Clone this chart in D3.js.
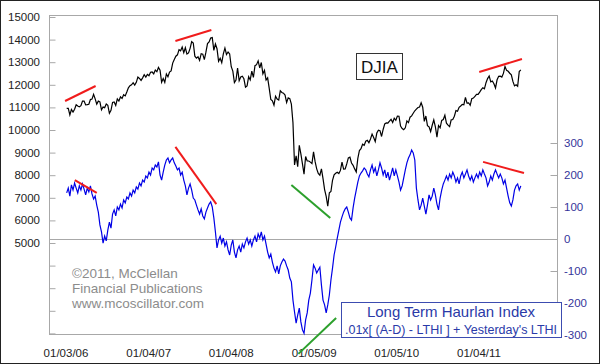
<!DOCTYPE html>
<html><head><meta charset="utf-8">
<script src="https://cdn.jsdelivr.net/npm/d3@7"></script>
<style>
html,body{margin:0;padding:0;background:#fff;}
svg{display:block;font-family:"Liberation Sans",Arial,sans-serif;}
</style></head>
<body><svg id="c" width="600" height="364"></svg>
<script>
// ---- data (weekly, Fridays, starting 2006-01-06) ----
const startDate = "2006-01-06";
const djia = [
10959,10960,10667,10907,10793,10920,11115,11061,11022,11076,11280,11280,11109,11120,11138,11347,11367,11577,11380,11144,11278,11247,10891,11015,10990,11150,11090,10739,10868,11219,11240,11088,11381,11284,11464,11392,11560,11508,11679,11867,11961,12002,12091,11986,12108,12343,12280,12194,12307,12445,12343,12463,
12398,12556,12566,12487,12653,12580,12768,12647,12114,12277,12110,12481,12354,12561,12612,12961,13121,13265,13327,13556,13507,13668,13424,13639,13361,13409,13612,13908,13851,13266,13182,13240,13079,13379,13358,13114,13443,13821,13896,14067,14093,13522,13807,13596,13043,13177,12981,13372,13625,13340,13451,13366,
12800,12606,12099,12207,12743,12183,12348,12381,12266,11894,11951,12361,12216,12609,12325,12849,12891,13058,12745,12986,12480,12638,12209,12307,11843,11347,11288,11100,11496,11370,11326,11734,11659,11628,11543,11220,11421,11388,11143,10325,8451,8852,8378,9325,8943,8497,8046,8829,8635,8629,8579,8515,
9034,8599,8281,8077,8001,8280,7850,7366,7063,6627,7224,7278,7776,8018,8083,8131,8076,8212,8575,8268,8277,8500,8764,8799,8539,8438,8280,8146,8743,9093,9171,9370,9321,9505,9544,9441,9605,9820,9665,9487,9865,9995,9972,9713,10023,10270,10318,10310,10389,10471,10329,10520,10428,
10618,10610,10172,10067,10012,10099,10402,10325,10567,10625,10742,10851,10927,10997,11019,11204,11009,10380,10620,10193,10137,9931,10211,10450,10143,9686,10198,10097,10425,10466,10653,10303,10214,10150,10448,10462,10607,10860,10829,11006,11063,11133,11118,11445,11193,11204,11092,11382,11411,11492,11574,11578,
11675,11787,11872,11824,12092,12273,12391,12130,12170,12044,11859,12221,12376,12380,12342,12506,12811,12638,12596,12512,12441,12151,11952,12004,11934,12583,12657
];
const lthi = [
144,159,134,169,153,175,159,144,166,153,172,156,138,159,147,166,141,125,134,106,84,44,22,-13,9,-6,28,53,34,78,91,72,100,91,109,97,122,113,131,125,144,134,153,144,163,156,175,166,184,178,197,191,
209,200,222,216,231,225,241,200,184,209,231,247,253,238,247,253,238,228,216,222,200,209,184,166,138,159,172,153,128,122,106,91,78,94,72,63,84,97,109,116,100,66,22,-28,-3,9,-13,3,-22,-9,-34,-50,
-19,-3,-41,-59,-34,-22,-41,-16,-28,-9,3,-16,-3,-22,-3,9,-9,16,3,22,-3,9,-16,-41,-59,-47,-72,-91,-103,-84,-109,-84,-72,-63,-69,-84,-97,-122,-134,-191,-228,-263,-238,-216,-259,-284,-295,-253,-231,-191,-169,-128,
-81,-91,-106,-97,-88,-144,-191,-206,-231,-206,-175,-128,-91,-50,-25,3,28,53,69,84,94,100,84,66,59,97,128,153,178,197,206,213,222,216,203,194,216,231,209,222,197,216,238,222,200,216,191,209,184,203,222,197,
216,197,178,153,166,191,216,238,253,263,278,269,247,159,122,91,106,128,103,78,106,138,122,134,159,138,109,91,128,153,172,184,197,184,203,191,209,197,178,191,172,197,209,191,203,216,197,184,197,178,191,203,
191,209,197,216,203,191,166,178,197,184,203,216,203,191,203,191,172,184,159,134,113,103,122,153,166,172,153,166
];
const xTickDates = ["2006-01-03","2007-01-04","2008-01-04","2009-01-05","2010-01-05","2011-01-04"];
const xTickLabels = ["01/03/06","01/04/07","01/04/08","01/05/09","01/05/10","01/04/11"];
const leftTicks = [1000,2000,3000,4000,5000,6000,7000,8000,9000,10000,11000,12000,13000,14000,15000];
const leftLabelMin = 5000;
const rightTicks = [-300,-200,-100,0,100,200,300];
// trend lines: [date, value] pairs, axis "L" (DJIA) or "R" (LTHI)
const trendLines = [
  {axis:"L", color:"red",   pts:[["2005-12-30",11283],["2006-05-14",11947]]},
  {axis:"L", color:"red",   pts:[["2007-05-02",13938],["2007-10-08",14425]]},
  {axis:"L", color:"red",   pts:[["2011-01-05",12566],["2011-07-13",13142]]},
  {axis:"L", color:"green", pts:[["2008-09-26",7566],["2009-03-17",6106]]},
  {axis:"R", color:"red",   pts:[["2006-02-11",184],["2006-05-19",144]]},
  {axis:"R", color:"red",   pts:[["2007-05-02",288],["2007-10-30",109]]},
  {axis:"R", color:"red",   pts:[["2011-01-22",241],["2011-07-22",206]]},
  {axis:"R", color:"green", pts:[["2008-10-27",-359],["2009-04-12",-247]]}
];
const copyrightLines = ["\u00a92011, McClellan","Financial Publications","www.mcoscillator.com"];
const legendLines = ["Long Term Haurlan Index",".01x[ (A-D) - LTHI ] + Yesterday's LTHI"];
const chartTitle = "DJIA";

// ---- layout ----
const P = {l:49, r:557, t:15, b:334};
const parse = d3.timeParse("%Y-%m-%d");
const svg = d3.select("#c");

const x = d3.scaleTime().domain([parse(xTickDates[0]), parse(xTickDates[5])]).range([66, 479]);
const yL = d3.scaleLinear().domain([5000, 15000]).range([243, 17]);
const yR = d3.scaleLinear().domain([-300, 300]).range([335, 143]);

const t0 = parse(startDate);
const dates = djia.map((_, i) => d3.timeDay.offset(t0, 7 * i));

// outer border
svg.append("rect").attr("x",0.5).attr("y",0.5).attr("width",599).attr("height",363)
  .attr("fill","#fff").attr("stroke","#222");

// plot frame
svg.append("rect").attr("x",P.l+0.5).attr("y",P.t+0.5).attr("width",P.r-P.l).attr("height",P.b-P.t)
  .attr("fill","none").attr("stroke","#a8a8a8");

// zero line of right axis
svg.append("line").attr("x1",P.l).attr("x2",P.r).attr("y1",Math.round(yR(0))+0.5).attr("y2",Math.round(yR(0))+0.5)
  .attr("stroke","#a8a8a8");

// left axis
const gL = svg.append("g").attr("transform",`translate(${P.l+0.5},0)`)
  .call(d3.axisRight(yL).tickValues(leftTicks).tickSize(6).tickFormat(""));
gL.select(".domain").remove();
gL.selectAll("line").attr("stroke","#a8a8a8");
svg.append("g").selectAll("text").data(leftTicks.filter(d => d >= leftLabelMin)).join("text")
  .attr("x",40).attr("y",d => yL(d)+4).attr("text-anchor","end")
  .attr("font-size","11.5px").attr("fill","#222").text(d => d);

// right axis
const gR = svg.append("g").attr("transform",`translate(${P.r+0.5},0)`)
  .call(d3.axisLeft(yR).tickValues(rightTicks).tickSize(7).tickFormat(""));
gR.select(".domain").remove();
gR.selectAll("line").attr("stroke","#a8a8a8");
svg.append("g").selectAll("text").data(rightTicks).join("text")
  .attr("x",564).attr("y",d => yR(d)+4).attr("text-anchor","start")
  .attr("font-size","11.5px").attr("fill","#34349a").text(d => d);

// x labels
svg.append("g").selectAll("text").data(xTickDates).join("text")
  .attr("x",d => x(parse(d))).attr("y",357).attr("text-anchor","middle")
  .attr("font-size","11.5px").attr("fill","#222").text((d,i) => xTickLabels[i]);

// copyright
svg.append("g").selectAll("text").data(copyrightLines).join("text")
  .attr("x",72).attr("y",(d,i) => 278 + i*15).attr("font-size","13.5px").attr("fill","#8c8c8c").text(d => d);

// series lines
const lineL = d3.line().x((d,i) => x(dates[i])).y(d => yL(d));
const lineR = d3.line().x((d,i) => x(dates[i])).y(d => yR(d));
svg.append("path").datum(djia).attr("d",lineL).attr("fill","none").attr("stroke","#000").attr("stroke-width",1.2);
svg.append("path").datum(lthi).attr("d",lineR).attr("fill","none").attr("stroke","#0000e6").attr("stroke-width",1.2);

// trend lines
const colors = {red:"#f01c1c", green:"#2ca02c"};
trendLines.forEach(t => {
  const ys = t.axis === "L" ? yL : yR;
  svg.append("line")
    .attr("x1",x(parse(t.pts[0][0]))).attr("y1",ys(t.pts[0][1]))
    .attr("x2",x(parse(t.pts[1][0]))).attr("y2",ys(t.pts[1][1]))
    .attr("stroke",colors[t.color]).attr("stroke-width",2);
});

// DJIA label box
svg.append("rect").attr("x",356.5).attr("y",53.5).attr("width",46).attr("height",26)
  .attr("fill","#fff").attr("stroke","#333");
svg.append("text").attr("x",379.5).attr("y",73).attr("text-anchor","middle")
  .attr("font-size","17px").attr("fill","#111").text(chartTitle);

// legend box
svg.append("rect").attr("x",341.5).attr("y",302.5).attr("width",220).attr("height",35)
  .attr("fill","#fff").attr("stroke","#3c4cb0");
svg.append("text").attr("x",451).attr("y",317).attr("text-anchor","middle")
  .attr("font-size","15px").attr("fill","#2a3aa8").text(legendLines[0]);
svg.append("text").attr("x",451).attr("y",334).attr("text-anchor","middle")
  .attr("font-size","12.5px").attr("fill","#2a3aa8").text(legendLines[1]);
</script>
</body></html>
